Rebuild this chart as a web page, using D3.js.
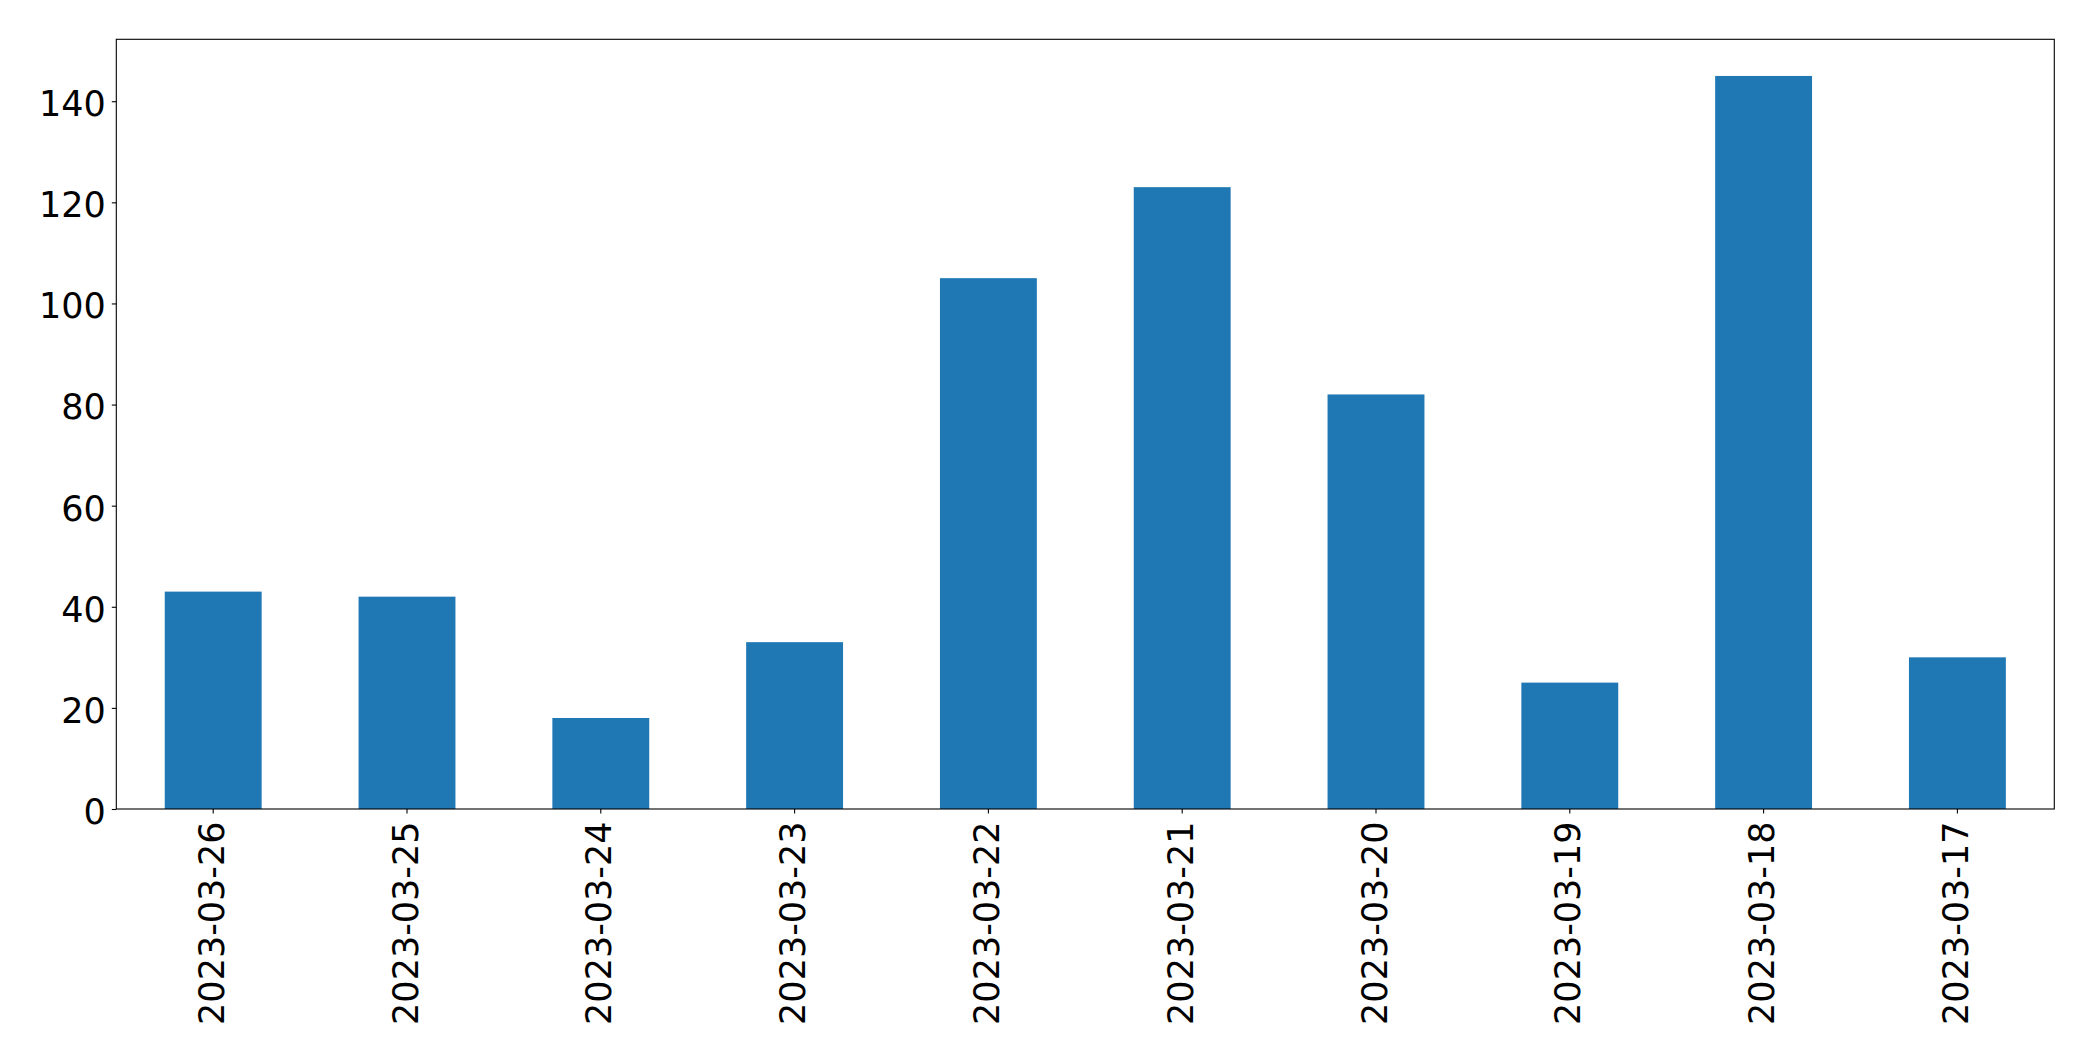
<!DOCTYPE html>
<html>
<head>
<meta charset="utf-8">
<script src="https://cdn.jsdelivr.net/npm/d3@7"></script>
<style>
  html, body { margin: 0; padding: 0; background: #fff; }
  svg { display: block; }
  text { font-family: "DejaVu Sans", sans-serif; fill: #000; }
</style>
</head>
<body>
<script>
const categories = ["2023-03-26","2023-03-25","2023-03-24","2023-03-23","2023-03-22","2023-03-21","2023-03-20","2023-03-19","2023-03-18","2023-03-17"];
const values = [43, 42, 18, 33, 105, 123, 82, 25, 145, 30];
const yTicks = [0, 20, 40, 60, 80, 100, 120, 140];

const W = 2093, H = 1061;
const margin = {left: 116.3, top: 39.3, right: W - 2054.3, bottom: H - 809};
const iw = W - margin.left - margin.right;
const ih = H - margin.top - margin.bottom;

const svg = d3.select("body").append("svg").attr("width", W).attr("height", H);
const g = svg.append("g").attr("transform", `translate(${margin.left},${margin.top})`);

const x = d3.scaleBand().domain(categories).range([0, iw]).paddingInner(0.5).paddingOuter(0.25);
const y = d3.scaleLinear().domain([0, d3.max(values) * 1.05]).range([ih, 0]);

g.selectAll("rect.bar").data(values).join("rect")
  .attr("class", "bar")
  .attr("x", (d, i) => x(categories[i]))
  .attr("width", x.bandwidth())
  .attr("y", d => y(d))
  .attr("height", d => y(0) - y(d))
  .attr("fill", "#1f77b4");

// frame
g.append("rect").attr("x", 0).attr("y", 0).attr("width", iw).attr("height", ih)
  .attr("fill", "none").attr("stroke", "#000").attr("stroke-width", 1.1);

const fs = 35;
const yAxis = g.append("g").call(d3.axisLeft(y).tickValues(yTicks).tickSize(4.5).tickPadding(6).tickFormat(d3.format("d")));
yAxis.select(".domain").remove();
yAxis.selectAll("line").attr("stroke", "#000").attr("stroke-width", 1.1);
yAxis.selectAll("text").attr("font-size", fs).attr("font-family", "DejaVu Sans").attr("dy", "0.41em");

const xAxis = g.append("g").attr("transform", `translate(0,${ih})`).call(d3.axisBottom(x).tickSize(4.5).tickSizeOuter(0));
xAxis.select(".domain").remove();
xAxis.selectAll("line").attr("stroke", "#000").attr("stroke-width", 1.1);
xAxis.selectAll("text")
  .attr("font-size", fs).attr("font-family", "DejaVu Sans")
  .attr("text-anchor", "end")
  .attr("dominant-baseline", "central")
  .attr("x", 0).attr("y", 0).attr("dy", null)
  .attr("transform", "translate(-1.5,12.5) rotate(-90)");
</script>
</body>
</html>
